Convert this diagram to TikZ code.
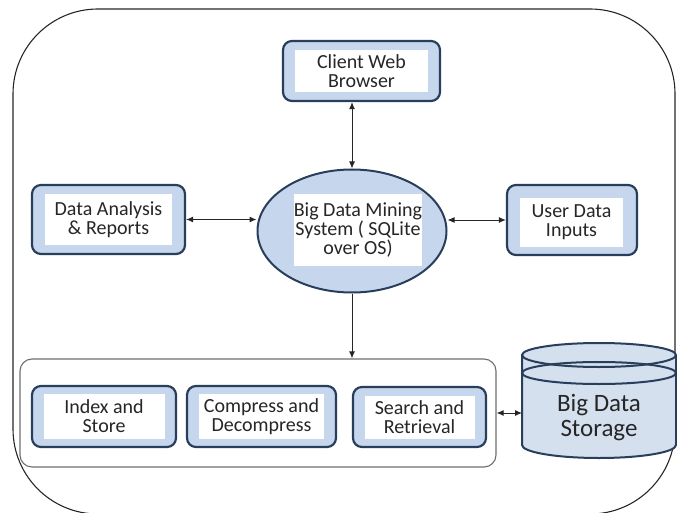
\documentclass[tikz,border=0pt]{standalone}
\usepackage{fontspec}
\setmainfont{Carlito}
\usetikzlibrary{shapes.geometric,arrows.meta}
\definecolor{navy}{HTML}{283E5B}
\definecolor{boxfill}{HTML}{C6D6EC}
\definecolor{cylfill}{HTML}{D5E0EF}
\definecolor{txt}{HTML}{262626}
\definecolor{framegray}{HTML}{6E6E6E}
\tikzset{
  boxo/.style={draw=navy, line width=2.2pt, fill=boxfill, rounded corners=9pt, rectangle, inner sep=0pt},
  boxi/.style={fill=white, rectangle, inner sep=0pt, align=center, text=txt, font=\fontsize{20}{19}\selectfont},
  conn/.style={line width=1pt, draw=black!85},
  tip/.style={-{Latex[length=7pt,width=6pt]}},
  dtip/.style={{Latex[length=7pt,width=6pt]}-{Latex[length=7pt,width=6pt]}}
}
\begin{document}
\begin{tikzpicture}[x=1pt,y=-1pt]
\useasboundingbox (0,0) rectangle (677,513);
\begin{scope}
\clip (0,0) rectangle (677,513);
% outer frame
\draw[black!85, line width=1.1pt, rounded corners=85pt] (13,9) rectangle (675,514);
\end{scope}

% Client Web Browser
\node[boxo, minimum width=157pt, minimum height=60pt] (cwb) at (361.5,71) {};
\node[boxi, minimum width=133pt, minimum height=42pt] (cwbt) at (cwb.center) {Client Web\\Browser};

% Ellipse
\node[ellipse, draw=navy, line width=2pt, fill=boxfill, minimum width=189pt, minimum height=123pt, inner sep=0pt] (ell) at (352,231) {};
\node[boxi, minimum width=128pt, minimum height=72pt] (ellt) at (358,230) {Big Data Mining\\System ( SQLite\\over OS)};

% Data Analysis
\node[boxo, minimum width=153pt, minimum height=69pt] (da) at (108.5,219.5) {};
\node[boxi, minimum width=127pt, minimum height=50pt] (dat) at (da.center) {Data Analysis\\\& Reports};

% User Data Inputs
\node[boxo, minimum width=130pt, minimum height=70pt] (udi) at (572,220) {};
\node[boxi, minimum width=103pt, minimum height=49pt] (udit) at (571.5,222.5) {User Data\\Inputs};

% Container
\node[draw=framegray, line width=1.1pt, rounded corners=12pt, rectangle, minimum width=476pt, minimum height=108pt, inner sep=0pt] (cont) at (258,413) {};

% Index and Store
\node[boxo, minimum width=144pt, minimum height=61pt] (is) at (104,416.5) {};
\node[boxi, minimum width=121pt, minimum height=45pt] (ist) at (is.center) {Index and\\Store};

% Compress and Decompress
\node[boxo, minimum width=149pt, minimum height=61pt] (cd) at (261.5,416.5) {};
\node[boxi, minimum width=125pt, minimum height=45pt] (cdt) at (cd.center) {Compress and\\Decompress};

% Search and Retrieval
\node[boxo, minimum width=133pt, minimum height=60pt] (sr) at (419.5,417) {};
\node[boxi, minimum width=110pt, minimum height=43pt] (srt) at (sr.center) {Search and\\Retrieval};

% Cylinder
\fill[cylfill] (522,355) -- (522,445) arc[start angle=180, end angle=360, x radius=77pt, y radius=13pt] -- (676,355) -- cycle;
\fill[cylfill] (599,355) ellipse[x radius=77pt, y radius=12pt];
\draw[navy, line width=2pt] (522,355) -- (522,445) arc[start angle=180, end angle=360, x radius=77pt, y radius=13pt] -- (676,355);
\draw[navy, line width=2pt] (599,355) ellipse[x radius=77pt, y radius=12pt];
\draw[navy, line width=2pt] (599,373) ellipse[x radius=77pt, y radius=11pt];
\node[text=txt, align=center, font=\fontsize{25}{25}\selectfont] (bds) at (599,418) {Big Data\\Storage};
\coordinate (cylw) at (522,413);

% connectors
\draw[conn, dtip] (cwb.south -| ell.north) -- (ell.north);
\draw[conn, dtip] (da.east) -- (ell.west |- da.east);
\draw[conn, dtip] (ell.east |- udi.west) -- (udi.west);
\draw[conn, tip] (ell.south) -- (ell.south |- cont.north);
\draw[conn, dtip] (cont.east) -- (cylw);
\end{tikzpicture}
\end{document}
